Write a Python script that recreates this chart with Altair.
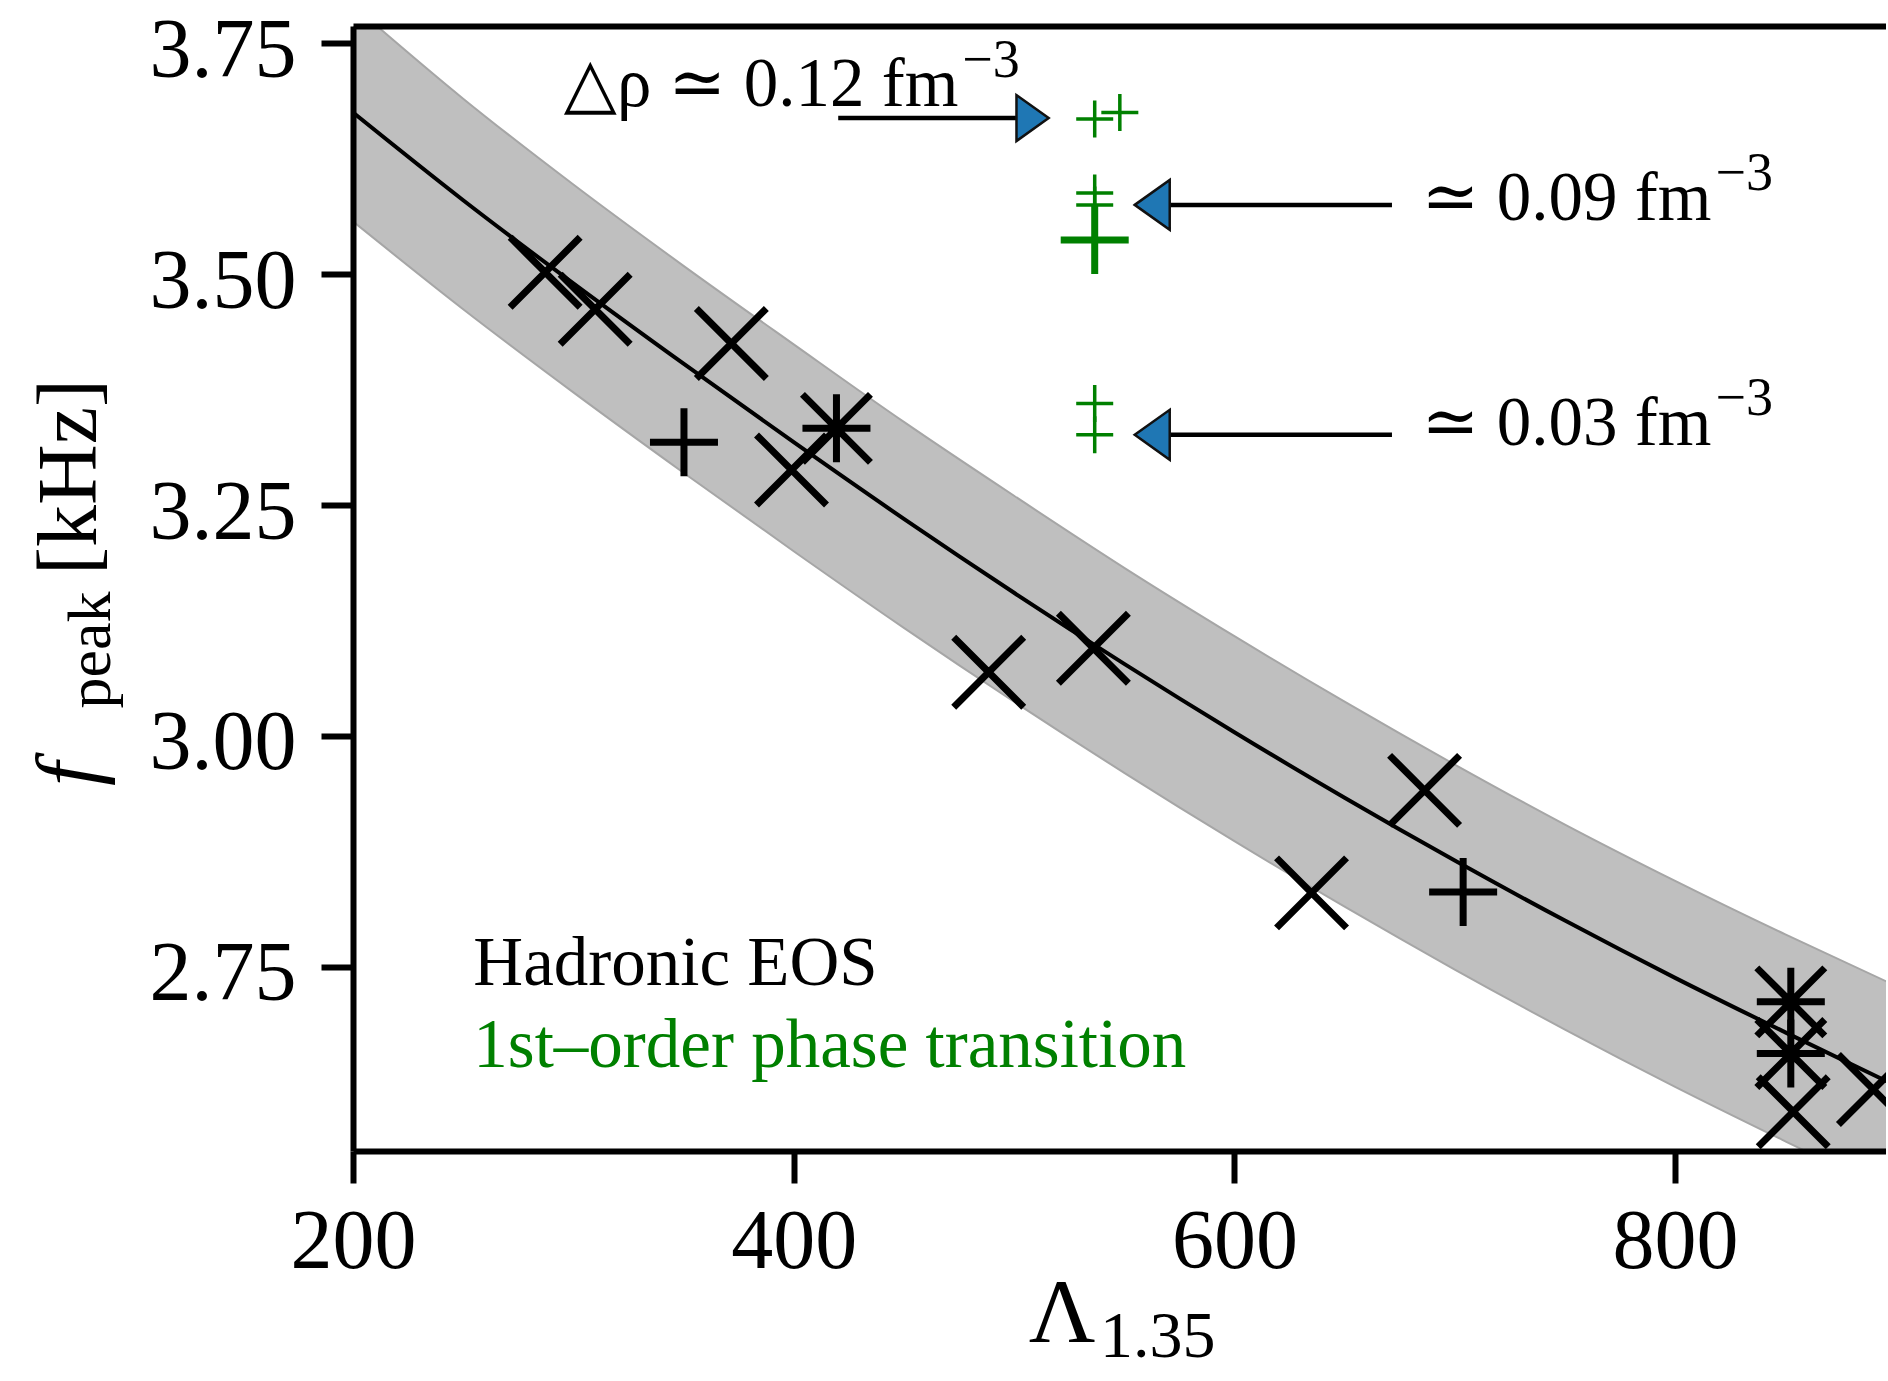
import altair as alt
import pandas as pd

# ---------------- data ----------------
X_DOMAIN = [200, 895.7]
Y_DOMAIN = [2.5505, 3.7687]
x_ticks = [200, 400, 600, 800]
y_ticks = [2.75, 3.00, 3.25, 3.50, 3.75]

# fit curve and its band
fit_lambda = [200, 250, 300, 350, 400, 450, 500, 550, 600, 650, 700, 750, 800, 850, 896]
fit_fpeak = [3.675, 3.580, 3.490, 3.403, 3.318, 3.235, 3.155, 3.078, 3.004, 2.933, 2.865, 2.800, 2.738, 2.679, 2.626]
band_upper = [3.791, 3.690, 3.597, 3.509, 3.424, 3.340, 3.260, 3.182, 3.108, 3.037, 2.969, 2.904, 2.843, 2.785, 2.734]
band_lower = [3.557, 3.462, 3.372, 3.285, 3.200, 3.117, 3.037, 2.960, 2.886, 2.815, 2.747, 2.682, 2.620, 2.561, 2.508]

# hadronic EOS models (black markers)
cross_lambda = [287.2, 309.9, 371.7, 399.0, 488.5, 536.0, 635.0, 686.3, 853.6, 890.0]
cross_fpeak = [3.502, 3.462, 3.425, 3.288, 3.069, 3.095, 2.830, 2.941, 2.593, 2.617]
plus_lambda = [350.2, 703.8]
plus_fpeak = [3.318, 2.831]
star_lambda = [419.4, 852.5, 852.5]
star_fpeak = [3.333, 2.712, 2.656]

# 1st-order phase transition models (green markers)
pt_small_lambda = [536.6, 548.0, 536.6, 536.6, 536.6, 536.6]
pt_small_fpeak = [3.668, 3.675, 3.588, 3.575, 3.360, 3.326]
pt_big_lambda = [536.6]
pt_big_fpeak = [3.537]

# arrows
arrow_fpeak = [3.669, 3.575, 3.326]
arrow_start = [420.2, 671.5, 671.5]
arrow_end = [502.0, 570.7, 570.7]
head_right_lambda = [508.4]
head_right_fpeak = [3.669]
head_left_lambda = [562.7, 562.7]
head_left_fpeak = [3.575, 3.326]

# annotation labels
label_text = ["\u25b3\u03c1 \u2243 0.12 fm", "\u2243 0.09 fm", "\u2243 0.03 fm"]
label_lambda = [474.7, 816.5, 816.5]
label_fpeak = [3.682, 3.5587, 3.3145]
sup_fpeak = [3.714, 3.591, 3.347]

legend_text = ["Hadronic EOS", "1st\u2013order phase transition"]
legend_color = ["#000000", "#008000"]
legend_lambda = [254.6, 254.6]
legend_fpeak = [2.730, 2.642]

# ---------------- chart ----------------
FONT = "Liberation Serif, DejaVu Serif, serif"
GREEN = "#008000"

sx = alt.Scale(domain=X_DOMAIN, nice=False, zero=False)
sy = alt.Scale(domain=Y_DOMAIN, nice=False, zero=False)

fit_df = pd.DataFrame({"lam": fit_lambda, "f": fit_fpeak, "hi": band_upper, "lo": band_lower})

x_bottom = alt.Axis(orient="bottom", values=x_ticks, format="d", title=None, grid=False,
                    labelFont=FONT, labelFontSize=84, labelColor="black",
                    labelPadding=18, labelFlush=False,
                    tickSize=32, tickWidth=6, tickColor="black",
                    domainColor="black", domainWidth=6, zindex=1)
y_left = alt.Axis(orient="left", values=y_ticks, format=".2f", title=None, grid=False,
                  labelFont=FONT, labelFontSize=84, labelColor="black",
                  labelPadding=25, labelOffset=8, labelFlush=False,
                  tickSize=32, tickWidth=6, tickColor="black",
                  domainColor="black", domainWidth=6, zindex=1)
x_top = alt.Axis(orient="top", labels=False, ticks=False, title=None, grid=False,
                 domainColor="black", domainWidth=6, zindex=1)


def X(field, axis=None):
    return alt.X(field, type="quantitative", scale=sx, axis=axis)


def Y(field, axis=None):
    return alt.Y(field, type="quantitative", scale=sy, axis=axis)


band = alt.Chart(fit_df).mark_area(color="#bfbfbf", opacity=1, clip=True,
                                   interpolate="monotone").encode(
    x=X("lam", x_bottom), y=Y("hi", y_left), y2="lo")
band_hi = alt.Chart(fit_df).mark_line(color="#a6a6a6", strokeWidth=2, clip=True,
                                      interpolate="monotone").encode(x=X("lam"), y=Y("hi"))
band_lo = alt.Chart(fit_df).mark_line(color="#a6a6a6", strokeWidth=2, clip=True,
                                      interpolate="monotone").encode(x=X("lam"), y=Y("lo"))
fit_line = alt.Chart(fit_df).mark_line(color="black", strokeWidth=4, clip=True,
                                       interpolate="monotone").encode(x=X("lam"), y=Y("f"))
top_frame = alt.Chart(fit_df).mark_line(opacity=0).encode(x=X("lam", x_top), y=Y("f"))

PLUS = "M-1,0L1,0M0,-1L0,1"
CROSS = "M-1,-1L1,1M-1,1L1,-1"
STAR = "M-1,0L1,0M0,-1L0,1M-1,-1L1,1M-1,1L1,-1"


def markers(xs, ys, shape, size, color, width):
    df = pd.DataFrame({"lam": xs, "f": ys})
    return alt.Chart(df).mark_point(shape=shape, size=size, filled=False, stroke=color,
                                    strokeWidth=width, opacity=1, clip=True).encode(
        x=X("lam"), y=Y("f"))


m_cross = markers(cross_lambda, cross_fpeak, CROSS, 4900, "black", 7)
m_plus = markers(plus_lambda, plus_fpeak, PLUS, 4624, "black", 7)
m_star = markers(star_lambda, star_fpeak, STAR, 4624, "black", 7)
m_pt_small = markers(pt_small_lambda, pt_small_fpeak, PLUS, 1369, GREEN, 3.5)
m_pt_big = markers(pt_big_lambda, pt_big_fpeak, PLUS, 4624, GREEN, 7)

arrow_df = pd.DataFrame({"a": arrow_start, "b": arrow_end, "f": arrow_fpeak})
arrows = alt.Chart(arrow_df).mark_rule(color="black", strokeWidth=4.5).encode(
    x=X("a"), x2="b", y=Y("f"))

hr_df = pd.DataFrame({"lam": head_right_lambda, "f": head_right_fpeak})
hl_df = pd.DataFrame({"lam": head_left_lambda, "f": head_left_fpeak})
head_r = alt.Chart(hr_df).mark_point(shape="M0.7,0L-0.7,-1L-0.7,1Z", size=2116, filled=True,
                                     fill="#1f77b4", stroke="#111111", strokeWidth=2.5,
                                     opacity=1).encode(x=X("lam"), y=Y("f"))
head_l = alt.Chart(hl_df).mark_point(shape="M-0.7,0L0.7,-1L0.7,1Z", size=2500, filled=True,
                                     fill="#1f77b4", stroke="#111111", strokeWidth=2.5,
                                     opacity=1).encode(x=X("lam"), y=Y("f"))

lab_df = pd.DataFrame({"lam": label_lambda, "f": label_fpeak, "t": label_text})
labels = alt.Chart(lab_df).mark_text(align="right", baseline="alphabetic", font=FONT,
                                     fontSize=69, color="black").encode(
    x=X("lam"), y=Y("f"), text="t:N")
sup_df = pd.DataFrame({"lam": label_lambda, "f": sup_fpeak, "t": ["\u22123"] * 3})
sups = alt.Chart(sup_df).mark_text(align="left", baseline="alphabetic", font=FONT,
                                   fontSize=54, color="black", dx=4).encode(
    x=X("lam"), y=Y("f"), text="t:N")

leg_df = pd.DataFrame({"lam": legend_lambda, "f": legend_fpeak, "t": legend_text, "c": legend_color})
legend = alt.Chart(leg_df).mark_text(align="left", baseline="alphabetic", font=FONT,
                                     fontSize=69).encode(
    x=X("lam"), y=Y("f"), text="t:N", color=alt.Color("c:N", scale=None))

# axis titles built from pieces (main symbol + subscript)
t_df = pd.DataFrame({"t": ["x"]})
x_title_main = alt.Chart(t_df).mark_text(text="\u039b", font=FONT, fontSize=92, align="center",
                                         baseline="alphabetic", color="black").encode(
    x=alt.value(709), y=alt.value(1316))
x_title_sub = alt.Chart(t_df).mark_text(text="1.35", font=FONT, fontSize=66, align="left",
                                        baseline="alphabetic", color="black").encode(
    x=alt.value(747), y=alt.value(1331))
y_title_f = alt.Chart(t_df).mark_text(text="f", font=FONT, fontSize=86, fontStyle="italic",
                                      align="center", baseline="alphabetic", angle=270,
                                      color="black").encode(x=alt.value(-257), y=alt.value(748))
y_title_sub = alt.Chart(t_df).mark_text(text="peak", font=FONT, fontSize=62,
                                        align="center", baseline="alphabetic", angle=270,
                                        color="black").encode(x=alt.value(-243), y=alt.value(624))
y_title_unit = alt.Chart(t_df).mark_text(text="[kHz]", font=FONT, fontSize=84,
                                         align="center", baseline="alphabetic", angle=270,
                                         color="black").encode(x=alt.value(-257), y=alt.value(451))

chart = alt.layer(
    band, band_hi, band_lo, fit_line, top_frame,
    m_cross, m_plus, m_star, m_pt_small, m_pt_big,
    arrows, head_r, head_l, labels, sups, legend,
    x_title_main, x_title_sub, y_title_f, y_title_sub, y_title_unit,
).resolve_axis(x="independent", y="independent").properties(
    width=1533, height=1125,
    padding={"left": 353, "top": 26, "right": 0, "bottom": 228},
    autosize=alt.AutoSizeParams(type="none"),
    background="white",
).configure_view(stroke=None)

chart.save("out.html", embed_options={"renderer": "svg", "actions": False})
